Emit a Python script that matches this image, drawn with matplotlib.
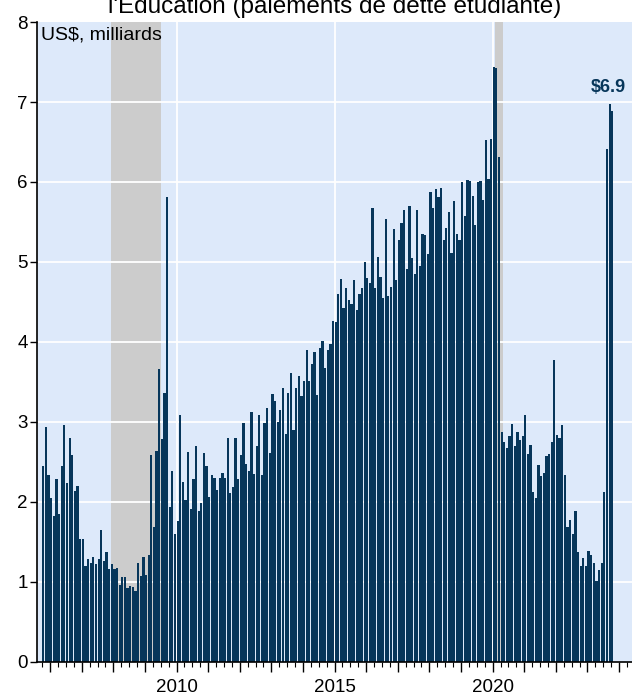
import numpy as np
import pandas as pd
import matplotlib
matplotlib.use("Agg")
import matplotlib.pyplot as plt
from matplotlib.ticker import MultipleLocator, FuncFormatter

#%% Datos: pagos mensuales de deuda estudiantil (US$, miles de millones)
debut = "2005-10-01"
valeurs = [2.45, 2.94, 2.34, 2.05, 1.82, 2.29, 1.85, 2.45, 2.96, 2.24, 2.80, 2.59,
           2.14, 2.20, 1.53, 1.54, 1.20, 1.28, 1.23, 1.31, 1.22, 1.28, 1.65, 1.26,
           1.37, 1.16, 1.22, 1.16, 1.17, 0.96, 1.06, 1.06, 0.92, 0.95, 0.93, 0.89,
           1.23, 1.07, 1.31, 1.08, 1.33,
           2.59, 1.69, 2.64, 3.66, 2.79, 3.36, 5.81, 1.94, 2.39, 1.60, 1.76, 3.09,
           2.25, 2.02, 2.62, 1.91, 2.29, 2.70, 1.88, 1.99, 2.61, 2.45, 2.06, 2.34,
           2.30, 2.15, 2.30, 2.36, 2.30, 2.80, 2.11, 2.19, 2.80, 2.29, 2.59, 2.99,
           2.47, 2.39, 3.13, 2.35, 2.70, 3.09, 2.34, 2.99, 3.18, 2.61, 3.35, 3.26,
           3.00,
           3.15, 3.42, 2.85, 3.36, 3.61, 2.90, 3.42, 3.57, 3.33, 3.51, 3.90, 3.51,
           3.72, 3.88, 3.34, 3.93, 4.01, 3.68, 3.90, 3.98, 4.26, 4.25, 4.60, 4.79,
           4.42, 4.67, 4.53, 4.47, 4.77, 4.40, 4.60, 4.67, 5.00, 4.80, 4.74, 5.67,
           4.67, 5.06, 4.81, 4.55, 5.54, 4.57, 4.69, 5.41, 4.78, 5.27, 5.49, 5.65,
           4.91, 5.70, 5.05, 4.85, 5.65, 4.95, 5.35, 5.34, 5.10,
           5.88, 5.68, 5.91, 5.81, 5.92, 5.27, 5.43, 5.62, 5.11, 5.76, 5.35, 5.27,
           6.00, 5.58, 6.03, 6.01, 5.82, 5.46, 6.00, 6.01, 5.77, 6.52, 6.04, 6.54,
           7.44, 7.43, 6.31, 2.87, 2.75, 2.68, 2.82, 2.98, 2.70, 2.87, 2.77, 2.82,
           3.09, 2.60, 2.71, 2.12, 2.05, 2.46, 2.33, 2.36, 2.58, 2.60, 2.75, 3.78,
           2.84, 2.80, 2.96, 2.34, 1.69, 1.77, 1.60, 1.89, 1.37, 1.20, 1.30, 1.20,
           1.38, 1.34, 1.23, 1.01, 1.15, 1.23, 2.12, 6.41, 6.97, 6.89]

# recesiones (NBER)
recessions = [("2007-12-01", "2009-07-01"), ("2020-02-01", "2020-05-01")]

titre = "l'Éducation (paiements de dette étudiante)"
unite = "US$, milliards"
etiquette = "$6.9"
annees_lab = [2010, 2015, 2020]

def annee_dec(d):
    d = pd.to_datetime(d)
    return d.year + (d.month - 1) / 12

fechas = pd.date_range(debut, periods=len(valeurs), freq="MS")
x = annee_dec(fechas)

#%% Grafico
plt.rcParams["font.family"] = ["Liberation Sans", "DejaVu Sans"]
azul = "#07365a"
fondo = "#dde9fa"

fig = plt.figure(figsize=(6.32, 7.0), dpi=100)
ax = fig.add_axes([0.059, 0.0545, 0.941, 0.914])
ax.set_facecolor(fondo)

for a, b in recessions:
    ax.axvspan(annee_dec(a), annee_dec(b), color="#cccccc", lw=0, zorder=0.5)

for v in range(1, 8):
    ax.axhline(v, color="white", lw=1.3, zorder=1)
for an in annees_lab:
    ax.axvline(an, color="white", lw=1.3, zorder=1)

ax.bar(x, valeurs, width=0.85 / 12, align="edge", color=azul, lw=0, zorder=2)

ax.text(x[-1] - 0.1, valeurs[-2] + 0.11, etiquette, color=azul, fontsize=13,
        fontweight="bold", ha="center", va="bottom", zorder=3)
ax.text(0.007, 0.993, unite, transform=ax.transAxes, fontsize=14,
        ha="left", va="top", zorder=3)
fig.text(0.53, 0.981, titre, fontsize=17.5, ha="center", va="baseline")

ax.set_xlim(2005.595, 2024.41)
ax.set_ylim(0, 8)

ax.yaxis.set_major_locator(MultipleLocator(1))
ax.xaxis.set_major_locator(MultipleLocator(1))
ax.xaxis.set_minor_locator(MultipleLocator(0.25))
ax.xaxis.set_major_formatter(FuncFormatter(
    lambda v, p: str(int(round(v))) if int(round(v)) in annees_lab else ""))

ax.tick_params(axis="y", direction="out", length=5, width=1, labelsize=13.5, pad=2)
ax.tick_params(axis="x", which="major", direction="out", length=7, width=1,
               labelsize=13.5, pad=5)
ax.tick_params(axis="x", which="minor", direction="out", length=3.5, width=0.8)

for s in ["top", "right"]:
    ax.spines[s].set_visible(False)
ax.spines["left"].set_linewidth(1.2)
ax.spines["bottom"].set_linewidth(1.2)

fig.savefig("out.png", dpi=100)
